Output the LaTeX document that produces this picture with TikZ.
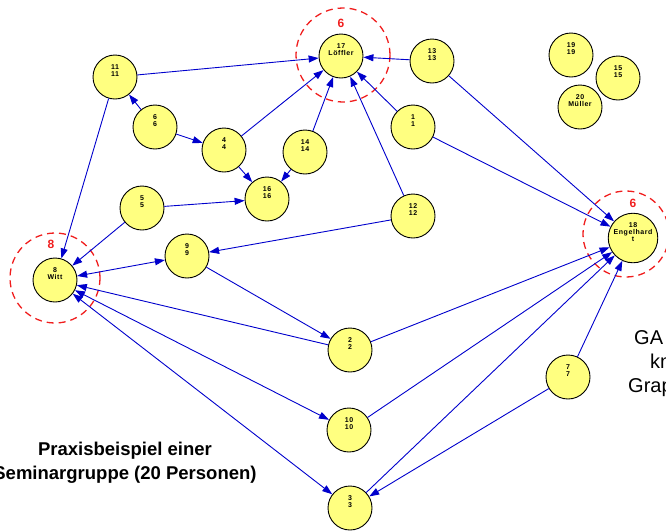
\documentclass[tikz,border=0pt]{standalone}
\usepackage{fontspec}
\setmainfont{Liberation Sans}
\usetikzlibrary{arrows.meta}
\definecolor{nodeyellow}{HTML}{FFFF80}
\definecolor{edgeblue}{HTML}{0000CC}
\definecolor{ringred}{HTML}{F01E1E}
\newcommand{\pp}[2]{#1\\#2\\[5pt]\mbox{}}
\newcommand{\ppp}[3]{#1\\#2\\#3\\[5pt]\mbox{}}
\tikzset{
  person/.style={circle, draw=black, line width=0.9pt, fill=nodeyellow,
    minimum size=44pt, inner sep=0pt, align=center,
    font=\fontsize{7}{7}\selectfont\bfseries\addfontfeature{LetterSpace=8}},
  link/.style={draw=edgeblue, line width=0.9pt, -{Triangle[length=10pt,width=7pt]}},
  dlink/.style={draw=edgeblue, line width=0.9pt,
    {Triangle[length=10pt,width=7pt]}-{Triangle[length=10pt,width=7pt]}},
  ring/.style={draw=ringred, line width=1.3pt, dash pattern=on 7pt off 5pt},
  ringlabel/.style={text=ringred, font=\fontsize{12}{12}\selectfont\bfseries},
  caption/.style={font=\fontsize{18.5}{23}\selectfont\bfseries, align=center},
  sidetext/.style={font=\fontsize{20}{24}\selectfont, anchor=base west, inner sep=0pt},
}
\begin{document}
\begin{tikzpicture}[x=1pt,y=-1pt]
\useasboundingbox (0,0) rectangle (666,531);

% red dashed rings
\draw[ring] (343,55) circle (47);
\draw[ring] (55,278) circle (45);
\draw[ring] (626,234) circle (43);

% persons
\node[person] (n17) at (341,56) {\pp{17}{Löffler}};
\node[person] (n13) at (432,61) {\pp{13}{13}};
\node[person] (n19) at (571,55) {\pp{19}{19}};
\node[person] (n15) at (618,78) {\pp{15}{15}};
\node[person] (n20) at (580,107) {\pp{20}{Müller}};
\node[person] (n11) at (115,77) {\pp{11}{11}};
\node[person] (n6) at (155,127) {\pp{6}{6}};
\node[person] (n4) at (224,150) {\pp{4}{4}};
\node[person] (n14) at (305,152) {\pp{14}{14}};
\node[person] (n1) at (413,127) {\pp{1}{1}};
\node[person] (n16) at (267,199) {\pp{16}{16}};
\node[person] (n5) at (142,208) {\pp{5}{5}};
\node[person] (n12) at (413,216) {\pp{12}{12}};
\node[person] (n9) at (187,256) {\pp{9}{9}};
\node[person] (n8) at (55,280) {\pp{8}{Witt}};
\node[person] (n18) at (633,238) {\ppp{18}{Engelhard}{t}};
\node[person] (n2) at (350,350) {\pp{2}{2}};
\node[person] (n7) at (568,377) {\pp{7}{7}};
\node[person] (n10) at (349,430) {\pp{10}{10}};
\node[person] (n3) at (350,508) {\pp{3}{3}};

% ring labels
\node[ringlabel] (r17) at (341,23) {6};
\node[ringlabel] (r8) at (51,244) {8};
\node[ringlabel] (r18) at (633,203) {6};

% connectors
\draw[link] (n11) -- (n17);
\draw[link] (n13) -- (n17);
\draw[link] (n4) -- (n17);
\draw[link] (n14) -- (n17);
\draw[link] (n12) -- (n17);
\draw[link] (n1) -- (n17);
\draw[link] (n13) -- (n18);
\draw[link] (n1) -- (n18);
\draw[link] (n6) -- (n11);
\draw[link] (n6) -- (n4);
\draw[link] (n4) -- (n16);
\draw[link] (n14) -- (n16);
\draw[link] (n5) -- (n16);
\draw[link] (n11) -- (n8);
\draw[link] (n5) -- (n8);
\draw[link] (n12) -- (n9);
\draw[link] (n9) -- (n2);
\draw[link] (n2) -- (n8);
\draw[link] (n2) -- (n18);
\draw[link] (n10) -- (n18);
\draw[link] (n3) -- (n18);
\draw[link] (n7) -- (n18);
\draw[link] (n7) -- (n3);
\draw[dlink] (n8) -- (n9);
\draw[dlink] (n8) -- (n10);
\draw[dlink] (n8) -- (n3);

% texts
\node[caption, anchor=base] (cap1) at (125,455) {Praxisbeispiel einer};
\node[caption, anchor=base] (cap2) at (125,479) {Seminargruppe (20 Personen)};
\node[sidetext] (ga) at (634,344) {GA};
\node[sidetext] (kn) at (650,368) {kn};
\node[sidetext] (grap) at (628,392) {Grap};
\end{tikzpicture}
\end{document}
